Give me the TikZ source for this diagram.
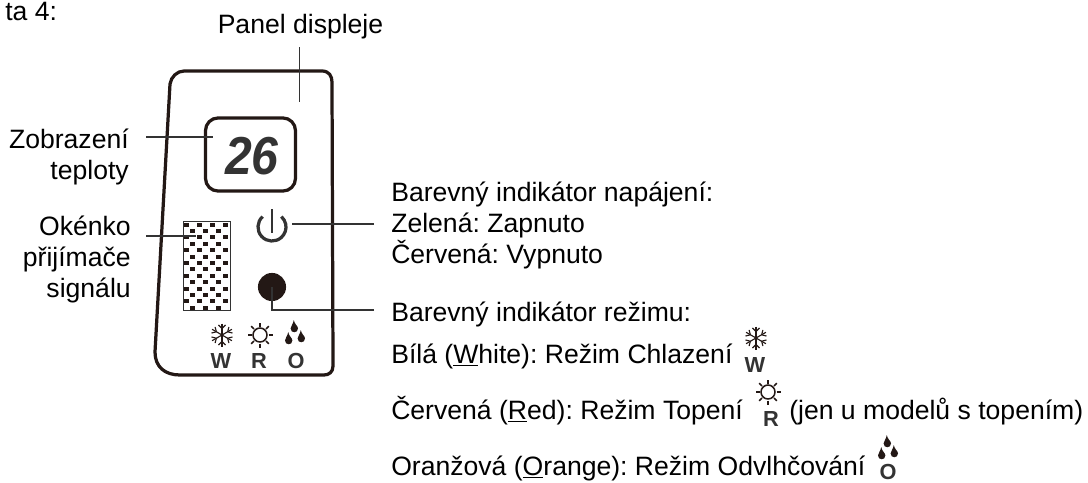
\documentclass[tikz,border=0pt]{standalone}
\usepackage{fontspec}
\setmainfont{Liberation Sans}
\frenchspacing
\definecolor{panelink}{HTML}{231815}
\definecolor{leaderink}{HTML}{333333}
\tikzset{
  lbl/.style={inner sep=0pt,font=\fontsize{18.9}{21.8}\selectfont},
  leader/.style={draw=leaderink,line width=1.3pt},
  panel/.style={draw=panelink,line width=2.3pt},
  letter/.style={inner sep=0pt,text=leaderink,font=\fontsize{15.5}{15.5}\selectfont\bfseries},
  pics/snowicon/.style={code={
    \foreach \a in {30,90,150} {
      \draw[panelink,line width=0.8pt] (\a:-11.5) -- (\a:11.5);
    }
    \foreach \a in {30,90,150,210,270,330} {
      \draw[panelink,line width=0.8pt] (\a:6.5) -- ++(\a+45:5) (\a:6.5) -- ++(\a-45:5);
    }
  }},
  pics/sunicon/.style={code={
    \draw[panelink,line width=1.1pt] (0,0) circle (7);
    \foreach \a in {0,45,...,315} {
      \draw[panelink,line width=1.1pt] (\a:8.5) -- (\a:12.5);
    }
  }},
  pics/dropicon/.style={code={
    \foreach \dx/\dy in {-0.7/-6,-6.3/6,6.3/4} {
      \fill[panelink,shift={(\dx,\dy)}] (-0.5,-7) .. controls (0,-3) and (3.7,-1) .. (3.7,1.5)
        .. controls (3.7,6.5) and (-3.7,6.5) .. (-3.7,1.5) .. controls (-3.7,-1) and (-1,-3) .. cycle;
    }
  }}
}
\begin{document}
\begin{tikzpicture}[x=0.025cm,y=-0.025cm]
  \useasboundingbox (0,0) rectangle (1088,482);
  % panel outline
  \draw[panel] (170,84) .. controls (171,77) and (177,71) .. (184,71) -- (322,71)
    .. controls (329,71) and (332,76) .. (332,82) -- (333,366)
    .. controls (333,372) and (329,375) .. (324,375) -- (180,375)
    .. controls (165,375) and (155,367) .. (155,352) -- cycle;
  % display
  \node (display) at (250.5,154.5) [panel,rounded corners=9pt,minimum width=64pt,minimum height=52pt,inner sep=0pt] {};
  \node (digits) at (252,156) [inner sep=0pt,text=leaderink,font=\fontsize{38}{38}\selectfont\bfseries\itshape] {\scalebox{0.9}[1]{26}};
  % receiver window
  \node (window) at (207,266) [draw=leaderink,line width=0.7pt,minimum width=34pt,minimum height=62.6pt,inner sep=0pt] {};
  \foreach \r in {0,2,...,12} {
    \foreach \c in {0,1,2,3} {
      \fill[panelink] (184.3+\c*13,222.5+\r*6.4) rectangle ++(4.7,4);
    }
  }
  \foreach \r in {1,3,...,13} {
    \foreach \c in {0,1,2} {
      \fill[panelink] (190+\c*13,222.5+\r*6.4) rectangle ++(4.7,4);
    }
  }
  % power sign and mode lamp
  \node (power) at (272,227) [inner sep=0pt,minimum size=20pt] {};
  \draw[leaderink,line width=2.3pt] ([shift={(228:14)}]power.center) arc (228:-48:14);
  \draw[leaderink,line width=2pt] (272,209) -- (272,233);
  \node (lamp) at (272,287) [circle,fill=panelink,minimum size=20pt,inner sep=0pt] {};
  % icons under the window
  \pic at (222,335) {snowicon};
  \pic at (260,335) {sunicon};
  \pic at (295,333) {dropicon};
  \node (w) at (221,361) [letter] {W};
  \node (r) at (259,361) [letter] {R};
  \node (o) at (296,361) [letter] {O};
  % labels
  \node (page) at (5,20) [lbl,anchor=base west] {ta 4:};
  \node (title) at (300.5,33) [lbl,anchor=base] {Panel displeje};
  \node (templbl) at (129,179) [lbl,anchor=base east,align=right] {Zobrazení\\teploty};
  \node (windowlbl) at (131,297) [lbl,anchor=base east,align=right] {Okénko\\přijímače\\signálu};
  \node (powerlbl) at (391,263) [lbl,anchor=base west,align=left] {Barevný indikátor napájení:\\Zelená: Zapnuto\\Červená: Vypnuto};
  \node (modelbl) at (391,321) [lbl,anchor=base west] {Barevný indikátor režimu:};
  \node (whitelbl) at (391,363) [lbl,anchor=base west] {Bílá (\underline{W}hite): Režim Chlazení};
  \node (redlbl) at (391,419) [lbl,anchor=base west] {Červená (\underline{R}ed): Režim Topení};
  \node (redtail) at (789,419) [lbl,anchor=base west] {(jen u modelů s topením)};
  \node (orangelbl) at (391,475) [lbl,anchor=base west] {Oranžová (\underline{O}range): Režim Odvlhčování};
  \pic at (756,338) {snowicon};
  \node (w2) at (755,365) [letter] {W};
  \pic at (768,392) {sunicon};
  \node (r2) at (771,419) [letter] {R};
  \pic at (888,448) {dropicon};
  \node (o2) at (888,472) [letter] {O};
  % leader lines
  \coordinate (titleend) at (299.5,47);
  \coordinate (titletip) at (299.5,102);
  \coordinate (tempend) at (146,137);
  \coordinate (temptip) at (213,137);
  \coordinate (windowend) at (146,236);
  \coordinate (windowtip) at (196,236);
  \coordinate (powerend) at (374,224);
  \coordinate (powertip) at (292,224);
  \coordinate (modeend) at (374,310);
  \coordinate (modecorner) at (272,310);
  \draw[leader] (titleend) -- (titletip);
  \draw[leader] (tempend) -- (temptip);
  \draw[leader] (windowend) -- (windowtip);
  \draw[leader] (powerend) -- (powertip);
  \draw[leader] (modeend) -- (modecorner) -- (lamp.center);
\end{tikzpicture}
\end{document}
